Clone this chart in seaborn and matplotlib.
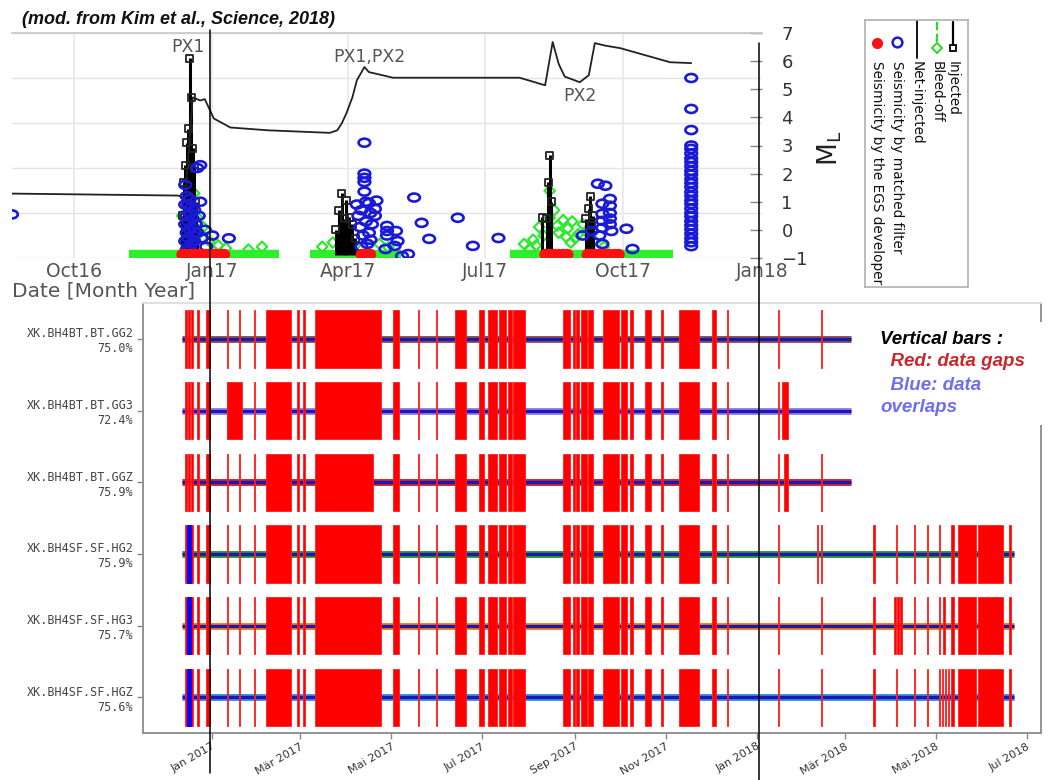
import numpy as np
import pandas as pd
import matplotlib
matplotlib.use("Agg")
import matplotlib.pyplot as plt
import matplotlib.dates as mdates
from matplotlib.path import Path
from matplotlib.patches import Rectangle
import seaborn as sns

# ======================= DATA : top panel (Kim et al., 2018) =======================
net_dates = ["2016-08-21", "2016-12-09", "2016-12-14", "2016-12-19", "2016-12-24", "2016-12-27",
             "2017-01-02", "2017-01-13", "2017-02-07", "2017-03-20", "2017-03-25", "2017-03-28",
             "2017-03-31", "2017-04-04", "2017-04-07", "2017-04-12", "2017-04-15", "2017-05-01",
             "2017-07-24", "2017-07-31", "2017-08-10", "2017-08-15", "2017-08-19", "2017-08-23",
             "2017-09-02", "2017-09-08", "2017-09-12", "2017-09-19", "2017-09-29", "2017-11-01",
             "2017-11-15"]
net_values = [1.29, 1.22, 1.15, 4.71, 4.6, 4.65, 3.96, 3.64, 3.54, 3.45, 3.54, 3.79, 4.14, 4.71,
              5.32, 5.79, 5.61, 5.41, 5.41, 5.3, 5.14, 6.68, 5.9, 5.45, 5.25, 5.5, 6.64, 6.55,
              6.46, 5.96, 5.93]

inj_dates = ["2016-12-12", "2016-12-13", "2016-12-14", "2016-12-15", "2016-12-16", "2016-12-17",
             "2016-12-18", "2016-12-19", "2016-12-20", "2016-12-21", "2016-12-22",
             "2017-03-24", "2017-03-26", "2017-03-28", "2017-03-30", "2017-03-31", "2017-04-02",
             "2017-04-04", "2017-04-06",
             "2017-08-08", "2017-08-11", "2017-08-12", "2017-08-13", "2017-08-14",
             "2017-09-06", "2017-09-08", "2017-09-09", "2017-09-10", "2017-09-11"]
inj_values = [0.5, 1.7, 2.3, 3.1, 3.6, 6.1, 4.7, 2.9, 2.2, 1.0, 0.2,
              0.0, 0.7, 1.3, 0.4, 1.05, 0.45, 0.2, -0.3,
              0.45, 0.4, 1.7, 2.65, 1.0,
              0.4, 0.75, 1.2, 0.15, 0.5]

bleed_band_start = ["2016-11-07", "2017-03-07", "2017-07-18"]
bleed_band_end = ["2017-02-14", "2017-05-06", "2017-11-03"]
bleed_dates = ["2016-12-14", "2016-12-20", "2016-12-22", "2016-12-16", "2016-12-18", "2016-12-24",
               "2016-12-30", "2017-01-05", "2017-01-10", "2017-01-25", "2017-02-03", "2016-12-12",
               "2016-12-26", "2017-03-15", "2017-03-22", "2017-03-27", "2017-04-02", "2017-04-10",
               "2017-04-22", "2017-04-28", "2017-08-13", "2017-08-13", "2017-08-06", "2017-08-19",
               "2017-08-25", "2017-08-30", "2017-09-04", "2017-08-02", "2017-07-27", "2017-08-09",
               "2017-08-22", "2017-09-01", "2017-09-12", "2017-09-18", "2017-08-16", "2017-08-28",
               "2017-08-04", "2017-08-18", "2017-08-27", "2017-09-07", "2017-07-31", "2017-08-24"]
bleed_values = [1.64, 1.3, 0.45, 0.9, 0.2, -0.1, -0.4, -0.55, -0.65, -0.7, -0.6, 0.5,
                0.1, -0.6, -0.45, -0.3, -0.55, -0.7, -0.5, -0.62, 1.39, 0.43, 0.1, -0.1,
                0.05, -0.3, 0.2, -0.35, -0.5, -0.2, 0.35, -0.15, -0.4, -0.6, 0.7, 0.3,
                -0.55, 0.15, -0.45, -0.1, -0.7, -0.25]

mf_dates = ["2016-08-21",
            "2016-12-14", "2016-12-14", "2016-12-14", "2016-12-14", "2016-12-15", "2016-12-15",
            "2016-12-15", "2016-12-15", "2016-12-16", "2016-12-16", "2016-12-16", "2016-12-17",
            "2016-12-17", "2016-12-17", "2016-12-17", "2016-12-18", "2016-12-18", "2016-12-18",
            "2016-12-19", "2016-12-19", "2016-12-20", "2016-12-20", "2016-12-21", "2016-12-22",
            "2016-12-22", "2016-12-23", "2016-12-24", "2016-12-24", "2016-12-25", "2016-12-27",
            "2016-12-28", "2017-01-01", "2017-01-12",
            "2017-04-12", "2017-04-12", "2017-04-12", "2017-04-12", "2017-04-12", "2017-04-20",
            "2017-05-15", "2017-04-19", "2017-04-19", "2017-04-27", "2017-05-03", "2017-04-27",
            "2017-04-27", "2017-05-04", "2017-05-20", "2017-05-25", "2017-06-13", "2017-06-23",
            "2017-07-10", "2017-05-07", "2017-05-11", "2017-04-26", "2017-05-02",
            "2017-04-07", "2017-04-08", "2017-04-09", "2017-04-10", "2017-04-11", "2017-04-13",
            "2017-04-14", "2017-04-15", "2017-04-16", "2017-04-17", "2017-04-15", "2017-04-10",
            "2017-04-13", "2017-04-16",
            "2017-09-14", "2017-09-19", "2017-09-22", "2017-09-22", "2017-09-22", "2017-09-22",
            "2017-09-22", "2017-09-23", "2017-09-17", "2017-09-17", "2017-09-17", "2017-09-17",
            "2017-10-03", "2017-09-15", "2017-09-04", "2017-10-07", "2017-09-17", "2017-09-10",
            "2017-11-15", "2017-11-15", "2017-11-15", "2017-11-15", "2017-11-15", "2017-11-15",
            "2017-11-15", "2017-11-15", "2017-11-15", "2017-11-15", "2017-11-15", "2017-11-15",
            "2017-11-15", "2017-11-15", "2017-11-15", "2017-11-15", "2017-11-15", "2017-11-15",
            "2017-11-15", "2017-11-15", "2017-11-15", "2017-11-15", "2017-11-15", "2017-11-15",
            "2017-11-15", "2017-11-15", "2017-11-15", "2017-11-15"]
mf_values = [0.55,
             1.6, 0.9, 0.2, -0.4, 1.2, 0.5, -0.1, -0.7, 0.9, 0.3, -0.3, 1.1,
             0.6, 0.0, -0.6, 0.8, 0.1, -0.5, 0.4, -0.2, 0.7, -0.4, 0.2, 2.2,
             -0.1, 0.5, 2.3, 1.0, -0.3, 0.0, -0.6, -0.2, -0.3,
             3.1, 2.0, 1.85, 1.7, 1.36, 1.04, 1.15, 0.75, 0.5, 0.14, -0.04, -0.04,
             -0.2, -0.4, 0.25, -0.32, 0.43, -0.57, -0.29, -0.93, -0.86, -0.68, -0.57,
             0.9, 0.5, 0.1, 0.7, -0.2, 0.3, -0.5, 0.95, 0.6, 0.2, -0.1, -0.6, 1.0, -0.35,
             1.64, 1.57, 1.1, 0.86, 0.6, 0.4, 0.2, -0.04, 0.93, 0.57, 0.32, 0.07,
             0.04, -0.2, -0.2, -0.68, -0.5, -0.04,
             5.4, 4.3, 3.55, 3.0, 2.88, 2.72, 2.55, 2.41, 2.26, 2.1, 1.97, 1.8, 1.66, 1.52,
             1.35, 1.21, 1.05, 0.92, 0.76, 0.6, 0.47, 0.31, 0.16, 0.02, -0.14, -0.3, -0.44, -0.58]

egs_dates = ["2016-12-12", "2016-12-14", "2016-12-16", "2016-12-18", "2016-12-20", "2016-12-22",
             "2016-12-24", "2016-12-26", "2016-12-28", "2016-12-30", "2017-01-01", "2017-01-03",
             "2017-01-05", "2017-01-07", "2017-01-09", "2017-04-10", "2017-04-13", "2017-04-16",
             "2017-08-10", "2017-08-13", "2017-08-16", "2017-08-19", "2017-08-22", "2017-08-25",
             "2017-09-07", "2017-09-10", "2017-09-13", "2017-09-16", "2017-09-19", "2017-09-22",
             "2017-09-25", "2017-09-28"]
egs_values = [-0.88] * len(egs_dates)

top_ticks = ["2016-10-01", "2017-01-01", "2017-04-01", "2017-07-01", "2017-10-01", "2018-01-01"]
top_tick_labels = ["Oct16", "Jan17", "Apr17", "Jul17", "Oct17", "Jan18"]
ml_ticks = [-1, 0, 1, 2, 3, 4, 5, 6, 7]
phase_labels = ["PX1", "PX1,PX2", "PX2"]
phase_dates = ["2016-12-16", "2017-04-15", "2017-09-02"]
phase_y = [6.5, 6.15, 4.75]
legend_labels = ["Injected", "Bleed-off", "Net-injected",
                 "Seismicity by matched filter", "Seismicity by the EGS developer"]

# ======================= DATA : bottom panel (data coverage) =======================
stations = ["XK.BH4BT.BT.GG2", "XK.BH4BT.BT.GG3", "XK.BH4BT.BT.GGZ",
            "XK.BH4SF.SF.HG2", "XK.BH4SF.SF.HG3", "XK.BH4SF.SF.HGZ"]
coverage = ["75.0%", "72.4%", "75.9%", "75.9%", "75.7%", "75.6%"]
data_start = ["2016-12-12"] * 6
data_end = ["2018-03-05", "2018-03-05", "2018-03-05", "2018-06-22", "2018-06-22", "2018-06-22"]

common_gaps = [
    ("2016-12-14", "2016-12-15"), ("2016-12-16", "2016-12-17"), ("2016-12-18", "2016-12-19"),
    ("2016-12-22", "2016-12-23"), ("2016-12-28", "2016-12-31"), ("2017-01-11", "2017-01-12"),
    ("2017-01-19", "2017-01-20"), ("2017-01-29", "2017-01-30"), ("2017-02-06", "2017-02-23"),
    ("2017-02-27", "2017-02-28"), ("2017-03-03", "2017-03-04"), ("2017-05-02", "2017-05-06"),
    ("2017-05-19", "2017-05-20"), ("2017-05-31", "2017-06-01"), ("2017-06-13", "2017-06-20"),
    ("2017-06-29", "2017-07-02"), ("2017-07-05", "2017-07-11"), ("2017-07-12", "2017-07-17"),
    ("2017-07-18", "2017-07-21"), ("2017-07-22", "2017-07-30"), ("2017-08-24", "2017-08-29"),
    ("2017-08-31", "2017-09-01"), ("2017-09-02", "2017-09-04"), ("2017-09-05", "2017-09-09"),
    ("2017-09-10", "2017-09-13"), ("2017-09-20", "2017-10-01"), ("2017-10-02", "2017-10-06"),
    ("2017-10-08", "2017-10-10"), ("2017-10-18", "2017-10-22"), ("2017-10-29", "2017-10-30"),
    ("2017-11-10", "2017-11-23"), ("2017-12-02", "2017-12-05"), ("2017-12-12", "2017-12-13"),
]
extra_gaps = {
    "XK.BH4BT.BT.GG2": [("2017-03-11", "2017-04-24"), ("2018-01-15", "2018-01-16"),
                        ("2018-02-13", "2018-02-14")],
    "XK.BH4BT.BT.GG3": [("2017-01-11", "2017-01-21"), ("2017-03-11", "2017-04-24"),
                        ("2018-01-15", "2018-01-16"), ("2018-01-18", "2018-01-22")],
    "XK.BH4BT.BT.GGZ": [("2017-03-11", "2017-04-19"), ("2018-01-15", "2018-01-16"),
                        ("2018-01-19", "2018-01-22"), ("2018-02-13", "2018-02-14")],
    "XK.BH4SF.SF.HG2": [("2017-03-11", "2017-04-24"), ("2018-01-15", "2018-01-16"),
                        ("2018-02-10", "2018-02-11"), ("2018-02-13", "2018-02-14"),
                        ("2018-03-20", "2018-03-21"), ("2018-04-04", "2018-04-05"),
                        ("2018-04-16", "2018-04-17"), ("2018-04-25", "2018-04-26"),
                        ("2018-05-03", "2018-05-04"), ("2018-05-11", "2018-05-13"),
                        ("2018-05-16", "2018-05-28"), ("2018-05-29", "2018-06-15"),
                        ("2018-06-19", "2018-06-20")],
    "XK.BH4SF.SF.HG3": [("2017-03-11", "2017-04-24"), ("2018-01-15", "2018-01-16"),
                        ("2018-02-13", "2018-02-14"), ("2018-03-20", "2018-03-21"),
                        ("2018-04-03", "2018-04-04"), ("2018-04-05", "2018-04-06"),
                        ("2018-04-07", "2018-04-08"), ("2018-04-16", "2018-04-17"),
                        ("2018-04-25", "2018-04-26"), ("2018-05-03", "2018-05-04"),
                        ("2018-05-06", "2018-05-07"), ("2018-05-11", "2018-05-13"),
                        ("2018-05-16", "2018-05-28"), ("2018-05-29", "2018-06-15"),
                        ("2018-06-19", "2018-06-20")],
    "XK.BH4SF.SF.HGZ": [("2017-03-11", "2017-04-24"), ("2018-01-15", "2018-01-16"),
                        ("2018-02-13", "2018-02-14"), ("2018-03-20", "2018-03-21"),
                        ("2018-04-04", "2018-04-05"), ("2018-04-16", "2018-04-17"),
                        ("2018-04-25", "2018-04-26"), ("2018-05-03", "2018-05-04"),
                        ("2018-05-05", "2018-05-06"), ("2018-05-07", "2018-05-08"),
                        ("2018-05-09", "2018-05-10"), ("2018-05-11", "2018-05-13"),
                        ("2018-05-16", "2018-05-28"), ("2018-05-29", "2018-06-15"),
                        ("2018-06-19", "2018-06-20")],
}
overlaps = {
    "XK.BH4SF.SF.HG2": [("2016-12-15", "2016-12-18")],
    "XK.BH4SF.SF.HG3": [("2016-12-15", "2016-12-18")],
    "XK.BH4SF.SF.HGZ": [("2016-12-15", "2016-12-18")],
}
row_colors = ["#8c564b", "#9a82e8", "#d62728", "#2ca02c", "#ff7f0e", "#3f8fe0"]
bottom_ticks = ["2017-01-01", "2017-03-01", "2017-05-01", "2017-07-01", "2017-09-01",
                "2017-11-01", "2018-01-01", "2018-03-01", "2018-05-01", "2018-07-01"]
bottom_tick_labels = ["Jan 2017", "Mär 2017", "Mai 2017", "Jul 2017", "Sep 2017",
                      "Nov 2017", "Jan 2018", "Mär 2018", "Mai 2018", "Jul 2018"]
note_lines = ["Vertical bars :", "  Red: data gaps", "  Blue: data", "overlaps"]
note_colors = ["#000000", "#c8282d", "#6e6ef0", "#6e6ef0"]

# ======================= FIGURE =======================
sns.set_theme(style="white")
plt.rcParams["font.family"] = ["DejaVu Sans"]

W, H = 1063, 780
fig = plt.figure(figsize=(W / 100, H / 100), dpi=100)
fig.patch.set_facecolor("white")


def fx(px):
    return px / W


def fy(py):
    return 1 - py / H


def dn(lst):
    return mdates.date2num(pd.to_datetime(lst))


# ---------------- top panel ----------------
ax = fig.add_axes([fx(12), fy(258), fx(750), 225 / H])
ax.set_facecolor("white")
ax.set_xlim(dn(["2016-08-21"])[0], dn(["2018-01-01"])[0])
ax.set_ylim(-1, 7)

for gy in np.linspace(-1, 7, 6):
    ax.axhline(gy, color="#e3e3e3", lw=1.0, zorder=0)
for gx in dn(top_ticks[:-1]):
    ax.axvline(gx, color="#e8e8e8", lw=1.2, zorder=0)

# bleed-off dense bands at baseline
ax.hlines([-0.88] * len(bleed_band_start), dn(bleed_band_start), dn(bleed_band_end),
          color="#2cf02c", lw=7.5, zorder=2)
# bleed-off scattered diamonds
sns.scatterplot(x=dn(bleed_dates), y=bleed_values, marker="D", s=28, facecolor="none",
                edgecolor="#2ee82e", linewidth=1.6, ax=ax, zorder=3, legend=False)
# injected stems + squares
inj_x = dn(inj_dates)
ax.vlines(inj_x, -0.9, inj_values, color="black", lw=2.2, zorder=4)
sns.scatterplot(x=inj_x, y=inj_values, marker="s", s=26, facecolor="none",
                edgecolor="#222222", linewidth=1.3, ax=ax, zorder=5, legend=False)
# net-injected line
sns.lineplot(x=dn(net_dates), y=net_values, color="#222222", lw=1.3, ax=ax,
             sort=False, estimator=None, zorder=4)
# matched-filter seismicity (open ellipses)
uc = Path.unit_circle()
ell = Path(uc.vertices * np.array([1.45, 1.0]), uc.codes)
sns.scatterplot(x=dn(mf_dates), y=mf_values, marker=ell, s=70, facecolor="none",
                edgecolor="#1a1ad6", linewidth=1.9, ax=ax, zorder=6, legend=False)
# EGS developer seismicity
sns.scatterplot(x=dn(egs_dates), y=egs_values, marker="o", s=70, color="#ff1010",
                edgecolor="none", ax=ax, zorder=7, legend=False)

for lab, d, yv in zip(phase_labels, dn(phase_dates), phase_y):
    ax.text(d, yv, lab, ha="center", va="center", fontsize=12.5, color="#555555", zorder=8)

ax.set_xticks(dn(top_ticks))
ax.set_xticklabels(top_tick_labels, fontsize=13.5, color="#555555")
ax.tick_params(axis="x", length=0, pad=3)
ax.yaxis.tick_right()
ax.set_yticks(ml_ticks)
ax.set_yticklabels([str(v).replace("-", "\u2212") for v in ml_ticks], fontsize=13,
                   color="#333333")
ax.tick_params(axis="y", direction="in", length=9, width=1, color="#888888", pad=14)
ax.set_xlabel("")
ax.set_ylabel("")
for side, sp in ax.spines.items():
    sp.set_visible(side == "top")
    sp.set_color("#c8c8c8")

fig.text(fx(12), fy(291), "Date [Month Year]", ha="left", va="center", fontsize=14.5,
         color="#555555")
fig.text(fx(830), fy(148), r"$\mathrm{M_L}$", rotation=90, ha="center", va="center",
         fontsize=19, color="#222222")
fig.text(fx(22), fy(19), "(mod. from Kim et al., Science, 2018)", ha="left", va="center",
         fontsize=13, fontweight="bold", fontstyle="italic", family="Liberation Sans",
         color="#111111")

# ---------------- rotated legend ----------------
lg = fig.add_axes([fx(865), fy(287), fx(103), 267 / H])
lg.set_xlim(865, 968)
lg.set_ylim(287, 20)
lg.set_xticks([])
lg.set_yticks([])
lg.set_facecolor("white")
for sp in lg.spines.values():
    sp.set_color("#b0b0b0")
    sp.set_linewidth(1.2)
col_x = [953, 937, 917, 897, 877]
lg.plot([953, 953], [22, 49], color="black", lw=1.6)
lg.plot([953], [48], marker="s", mfc="white", mec="black", ms=5, mew=1.3)
lg.plot([937, 937], [22, 49], color="#2cd82c", lw=1.6, ls="--")
lg.plot([937], [48], marker="D", mfc="white", mec="#2cd82c", ms=5, mew=1.4)
lg.plot([917, 917], [20, 58], color="black", lw=1.3)
lg.plot([897], [42], marker="o", mfc="none", mec="#1a1ad6", ms=7, mew=1.8)
lg.plot([877], [43], marker="o", mfc="#ff1010", mec="#ff1010", ms=7)
for x0, lab in zip(col_x, legend_labels):
    lg.text(x0, 61, lab, rotation=270, ha="center", va="top", fontsize=9.8, color="#111111")

# ---------------- bottom panel ----------------
bx = fig.add_axes([fx(143), fy(733), fx(898), 430 / H])
bx.set_facecolor("white")
t0 = dn(["2017-01-01"])[0]
bx.set_xlim(t0 - 46.2, t0 + 555.4)
bx.set_ylim(5.5, -0.5)

for i, st in enumerate(stations):
    xs = dn([data_start[i], data_end[i]])
    bx.plot(xs, [i, i], color=row_colors[i], lw=5.0, solid_capstyle="butt", zorder=2)
    bx.plot(xs, [i, i], color="#1818b8", lw=2.4, solid_capstyle="butt", zorder=3)
    gaps = common_gaps + extra_gaps[st]
    g0 = dn([g[0] for g in gaps])
    g1 = dn([g[1] for g in gaps])
    bx.broken_barh(list(zip(g0, g1 - g0)), (i - 0.4, 0.8), facecolors="#ff0000",
                   edgecolor="#ff2020", linewidth=0.6, zorder=4)
    if st in overlaps:
        o0 = dn([o[0] for o in overlaps[st]])
        o1 = dn([o[1] for o in overlaps[st]])
        bx.broken_barh(list(zip(o0, o1 - o0)), (i - 0.4, 0.8), facecolors="#0000ff",
                       edgecolor="#0000ff", linewidth=0.6, zorder=5)

bx.set_yticks(range(len(stations)))
bx.set_yticklabels([f"{s}\n{c}" for s, c in zip(stations, coverage)], fontsize=8.5,
                   family="DejaVu Sans Mono", color="#444444", ha="right",
                   multialignment="right")
bx.set_xticks(dn(bottom_ticks))
bx.set_xticklabels(bottom_tick_labels, rotation=30, ha="right", rotation_mode="anchor",
                   fontsize=8, color="#333333")
bx.tick_params(axis="both", direction="out", length=4, width=1, color="#888888", pad=3)
bx.tick_params(axis="x", pad=2)
bx.tick_params(left=True, bottom=True)
for side, sp in bx.spines.items():
    sp.set_visible(True)
    sp.set_color("#dddddd" if side == "top" else "#8a8a8a")
    sp.set_linewidth(1.3)

# vertical reference lines (Jan 2017, Jan 2018) spanning both panels
bx.axvline(dn(["2017-01-01"])[0] - 1.3, ymin=-0.093, ymax=1.635, color="black", lw=1.1,
           clip_on=False, zorder=10)
bx.axvline(dn(["2018-01-01"])[0] + 1.2, ymin=-0.11, ymax=1.605, color="black", lw=1.1,
           clip_on=False, zorder=10)

# note box
fig.add_artist(Rectangle((fx(872), fy(425)), fx(1063 - 872), 103 / H, transform=fig.transFigure,
                         facecolor="white", edgecolor="none", zorder=1))
note_pos = [(880, 340), (880, 362), (880, 385), (880, 407)]
for (px, py), txt, col in zip(note_pos, note_lines, note_colors):
    fig.text(fx(px), fy(py), txt, ha="left", va="center", fontsize=13.5, fontweight="bold",
             fontstyle="italic", family="Liberation Sans", color=col, zorder=3)

fig.savefig("out.png", dpi=100, facecolor="white")
